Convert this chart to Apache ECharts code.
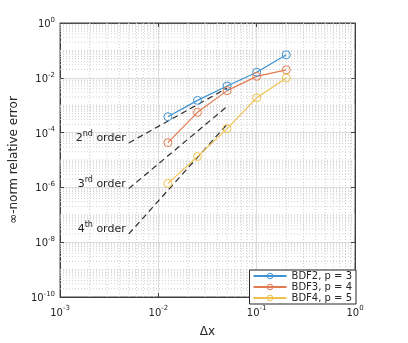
<!DOCTYPE html>
<html>
<head>
<meta charset="utf-8">
<script src="https://cdn.jsdelivr.net/npm/echarts@6/dist/echarts.min.js"></script>
<style>
html, body { margin: 0; padding: 0; background: #fff; }
#chart { width: 408px; height: 343px; }
</style>
</head>
<body>
<div id="chart"></div>
<script>
// convergence data
var dx = [0.0125, 0.025, 0.05, 0.1, 0.2];
var errBDF2 = [3.8e-4, 1.5e-3, 5.0e-3, 1.6e-2, 6.9e-2];
var errBDF3 = [4.3e-5, 5.5e-4, 3.4e-3, 1.13e-2, 1.96e-2];
var errBDF4 = [1.4e-6, 1.33e-5, 1.4e-4, 1.86e-3, 9.9e-3];
var names = ['BDF2, p = 3', 'BDF3, p = 4', 'BDF4, p = 5'];

// reference slopes
var orderX = [0.005, 0.05];
var order2 = [4.2e-5, 4.2e-3];
var order3 = [9e-7, 9e-4];
var order4 = [2e-8, 2e-4];
var orderNum = ['2', '3', '4'];
var orderSup = ['nd', 'rd', 'th'];

// axis ranges
var xRange = [1e-3, 1];
var yRange = [1e-10, 1];

var colors = ['#3f93d2', '#e27a50', '#efc14c'];
var textColor = '#262626';

function pairs(xs, ys) {
    return xs.map(function (x, i) { return [x, ys[i]]; });
}

function sci(v) {
    var e = Math.round(Math.log10(v));
    return '{b|10}{s|' + e + '}';
}

var richTick = {
    b: { fontSize: 10, color: textColor, fontFamily: 'DejaVu Sans', verticalAlign: 'bottom' },
    s: { fontSize: 7, color: textColor, fontFamily: 'DejaVu Sans', verticalAlign: 'bottom', padding: [0, 0, 6, 0] }
};

// minor grid: 2..9 inside each decade, plus the odd decades on y
var minorX = [], minorY = [];
for (var d = -3; d < 0; d++) {
    for (var k = 2; k <= 9; k++) minorX.push(k * Math.pow(10, d));
}
for (var d = -10; d < 0; d++) {
    if (d % 2 !== 0) minorY.push(Math.pow(10, d));
    for (var k = 2; k <= 9; k++) minorY.push(k * Math.pow(10, d));
}

function gridLine(a, b) {
    return {
        type: 'line',
        silent: true,
        symbol: 'none',
        z: 1,
        lineStyle: { color: '#cfcfcf', width: 1, type: [1, 2] },
        data: [a, b]
    };
}

var gridSeries = minorX.map(function (x) {
    return gridLine([x, yRange[0]], [x, yRange[1]]);
}).concat(minorY.map(function (y) {
    return gridLine([xRange[0], y], [xRange[1], y]);
}));

var chart = echarts.init(document.getElementById('chart'));

function logAxis(range, interval, extra) {
    var a = {
        type: 'log',
        logBase: 10,
        min: range[0],
        max: range[1],
        interval: interval,
        axisLine: { show: true, lineStyle: { color: '#404040', width: 1 } },
        axisTick: { show: true, inside: true, length: 4, lineStyle: { color: '#404040' } },
        axisLabel: { show: true, formatter: sci, rich: richTick },
        splitLine: { show: true, lineStyle: { color: '#dedede', width: 1 } }
    };
    for (var key in extra) a[key] = extra[key];
    return a;
}

var orderRich = {
    n: { fontSize: 11, color: textColor, fontFamily: 'DejaVu Sans', verticalAlign: 'bottom' },
    s: { fontSize: 8, color: textColor, fontFamily: 'DejaVu Sans', verticalAlign: 'bottom', padding: [0, 0, 6, 0] }
};

var orderSeries = [order2, order3, order4].map(function (ys, i) {
    var data = pairs(orderX, ys);
    data[0] = {
        value: data[0],
        symbol: 'circle',
        symbolSize: 0.1,
        label: {
            show: true,
            position: 'left',
            distance: 1,
            offset: [-2, -6],
            formatter: '{n|' + orderNum[i] + '}{s|' + orderSup[i] + '}{n| order}',
            rich: orderRich
        }
    };
    return {
        type: 'line',
        symbol: 'none',
        silent: true,
        z: 3,
        lineStyle: { color: '#2e2e2e', width: 1.2, type: [6, 4] },
        itemStyle: { color: '#2e2e2e' },
        data: data
    };
});

var mainSeries = [errBDF2, errBDF3, errBDF4].map(function (ys, i) {
    return {
        name: names[i],
        type: 'line',
        symbol: 'circle',
        symbolSize: 8,
        z: 4,
        lineStyle: { color: colors[i], width: 1.2 },
        itemStyle: { color: 'rgba(255,255,255,0)', borderColor: colors[i], borderWidth: 1 },
        data: pairs(dx, ys)
    };
});

chart.setOption({
    animation: false,
    textStyle: { fontFamily: 'DejaVu Sans' },
    grid: {
        left: 56, top: 23, right: 53, bottom: 39,
        show: true, borderColor: '#404040', borderWidth: 1
    },
    xAxis: [
        logAxis(xRange, 1, {
            name: 'Δx',
            nameLocation: 'middle',
            nameGap: 29,
            nameTextStyle: { fontSize: 12, color: textColor },
            axisLabel: { show: true, margin: 8, formatter: sci, rich: richTick }
        }),
        logAxis(xRange, 1, {
            position: 'top',
            axisLabel: { show: false },
            splitLine: { show: false }
        })
    ],
    yAxis: [
        logAxis(yRange, 2, {
            name: '∞-norm relative error',
            nameLocation: 'middle',
            nameGap: 38,
            nameTextStyle: { fontSize: 12, color: textColor },
            axisLabel: { show: true, margin: 5, formatter: sci, rich: richTick }
        }),
        logAxis(yRange, 2, {
            position: 'right',
            axisLabel: { show: false },
            splitLine: { show: false }
        })
    ],
    legend: {
        data: names,
        orient: 'vertical',
        right: 52,
        bottom: 39,
        backgroundColor: '#fff',
        borderColor: '#262626',
        borderWidth: 1,
        borderRadius: 0,
        padding: [1, 4, 1, 3],
        itemGap: 1,
        itemWidth: 33,
        itemHeight: 7,
        itemStyle: { borderWidth: 1 },
        textStyle: { fontSize: 10, color: textColor, fontFamily: 'DejaVu Sans' }
    },
    series: gridSeries.concat(orderSeries, mainSeries)
});
</script>
</body>
</html>
